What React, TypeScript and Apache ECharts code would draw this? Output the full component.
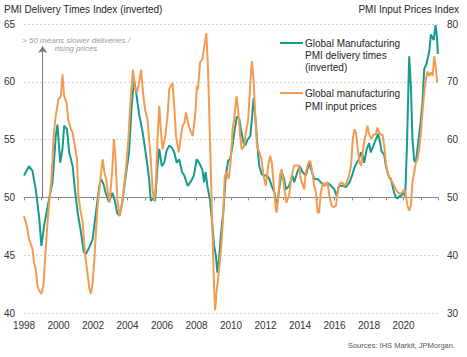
import React, { useEffect, useRef } from "react";
import * as echarts from "echarts";

// Global Manufacturing PMI delivery times (inverted) — left axis
const deliveryYears = [
  1998.0, 1998.29, 1998.49, 1998.68, 1998.87, 1999.01, 1999.17, 1999.26, 1999.46, 1999.65, 1999.75, 1999.84, 1999.94,
  2000.1, 2000.23, 2000.33, 2000.49, 2000.62, 2000.82, 2000.95, 2001.11, 2001.3, 2001.46, 2001.59, 2001.79, 2001.98,
  2002.17, 2002.37, 2002.47, 2002.62, 2002.73, 2002.92, 2003.12, 2003.27, 2003.41, 2003.55, 2003.7, 2003.9,
  2004.09, 2004.24, 2004.38, 2004.52, 2004.67, 2004.87, 2005.02, 2005.16, 2005.25, 2005.35, 2005.49, 2005.6, 2005.74, 2005.84, 2005.99,
  2006.13, 2006.26, 2006.42, 2006.57, 2006.71, 2006.85, 2007.0, 2007.16, 2007.29, 2007.49, 2007.68, 2007.85,
  2008.01, 2008.15, 2008.34, 2008.44, 2008.53, 2008.63, 2008.79, 2008.92, 2009.02, 2009.12, 2009.21, 2009.31, 2009.41, 2009.55, 2009.7, 2009.84, 2009.95,
  2010.09, 2010.22, 2010.34, 2010.48, 2010.57, 2010.73, 2010.83, 2010.96, 2011.12, 2011.21, 2011.31, 2011.45, 2011.55, 2011.64, 2011.78, 2011.93,
  2012.09, 2012.22, 2012.36, 2012.52, 2012.61, 2012.7, 2012.8, 2012.94, 2013.08, 2013.18, 2013.37, 2013.56, 2013.66, 2013.85, 2013.99,
  2014.14, 2014.34, 2014.53, 2014.69, 2014.83, 2015.02, 2015.21, 2015.41, 2015.6, 2015.8, 2015.99, 2016.13, 2016.23, 2016.32, 2016.48, 2016.67, 2016.87,
  2017.02, 2017.16, 2017.29, 2017.41, 2017.54, 2017.64, 2017.72, 2017.87, 2018.01, 2018.1, 2018.26, 2018.39, 2018.53, 2018.65, 2018.72, 2018.88, 2018.98,
  2019.07, 2019.17, 2019.27, 2019.36, 2019.46, 2019.56, 2019.65, 2019.75, 2019.85, 2020.0, 2020.1, 2020.2, 2020.33, 2020.43, 2020.52, 2020.62, 2020.72, 2020.81, 2020.97,
  2021.1, 2021.2, 2021.34, 2021.49, 2021.59, 2021.75, 2021.86, 2021.94, 2021.99,
];
const deliveryIndex = [
  51.9, 52.7, 52.3, 50.7, 48.4, 45.8, 47.6, 48.3, 49.9, 51.3, 53.3, 55.3, 56.3,
  53.0, 54.2, 56.2, 55.9, 53.9, 52.7, 50.7, 48.7, 47.0, 45.3, 45.1, 45.7, 46.4,
  48.7, 51.0, 51.6, 51.1, 50.4, 49.6, 50.4, 49.7, 48.6, 48.4, 49.6, 51.9,
  53.9, 57.9, 60.2, 58.9, 57.2, 55.7, 54.2, 52.7, 51.6, 49.7, 49.9, 49.7, 52.7, 54.2, 52.7,
  53.0, 54.0, 54.5, 54.3, 53.9, 53.0, 53.3, 52.2, 51.9, 51.0, 51.4, 51.9,
  53.3, 53.0, 52.4, 51.3, 52.2, 51.0, 49.7, 47.6, 45.8, 45.0, 43.5, 44.7, 46.7, 48.7, 51.9, 53.2, 53.3,
  54.5, 55.9, 57.0, 56.8, 55.9, 54.7, 54.5, 55.0, 55.3, 56.8, 58.6, 56.2, 54.2, 52.7, 52.0, 51.9,
  51.9, 51.6, 51.0, 50.4, 49.6, 49.6, 50.8, 52.2, 51.6, 50.7, 51.0, 51.9, 51.3, 52.2, 52.7,
  52.2, 51.9, 53.0, 52.2, 51.6, 51.6, 51.3, 51.0, 51.3, 51.0, 50.7, 50.1, 50.9, 51.0, 51.0, 50.9, 51.3,
  51.9, 52.6, 53.0, 53.3, 53.9, 53.6, 53.0, 54.2, 54.7, 53.9, 54.5, 55.0, 55.5, 54.7, 54.0, 53.7, 52.7,
  52.2, 51.7, 51.6, 51.0, 50.4, 50.0, 49.9, 50.1, 50.1, 50.4, 50.1, 54.5, 62.2, 59.6, 55.0, 53.2, 53.0, 54.2, 56.2,
  58.2, 61.1, 61.6, 62.6, 64.1, 63.6, 64.9, 63.9, 62.4,
];

// Global manufacturing PMI input prices — right axis
const priceYears = [
  1998.0, 1998.16, 1998.29, 1998.49, 1998.58, 1998.68, 1998.78, 1998.87, 1999.01, 1999.13, 1999.2, 1999.32, 1999.46, 1999.59, 1999.71, 1999.81, 1999.9,
  2000.0, 2000.14, 2000.23, 2000.33, 2000.47, 2000.56, 2000.72, 2000.82, 2000.95, 2001.07, 2001.15, 2001.26, 2001.4, 2001.53, 2001.65, 2001.79, 2001.88, 2001.98,
  2002.08, 2002.17, 2002.27, 2002.37, 2002.47, 2002.56, 2002.66, 2002.76, 2002.89, 2002.96, 2003.12, 2003.21, 2003.31, 2003.41, 2003.54, 2003.66, 2003.8, 2003.93,
  2004.05, 2004.19, 2004.32, 2004.44, 2004.55, 2004.67, 2004.79, 2004.9, 2005.02, 2005.16, 2005.25, 2005.35, 2005.45, 2005.55, 2005.64, 2005.74, 2005.84, 2005.93,
  2006.03, 2006.19, 2006.32, 2006.42, 2006.52, 2006.61, 2006.71, 2006.81, 2006.97, 2007.1, 2007.2, 2007.3, 2007.39, 2007.55, 2007.68, 2007.78, 2007.87, 2007.95,
  2008.02, 2008.09, 2008.2, 2008.34, 2008.48, 2008.57, 2008.67, 2008.75, 2008.83, 2008.88, 2008.95, 2009.02, 2009.08, 2009.16, 2009.23, 2009.33, 2009.44, 2009.54, 2009.64, 2009.76, 2009.87, 2009.99,
  2010.09, 2010.18, 2010.32, 2010.41, 2010.53, 2010.62, 2010.76, 2010.86, 2011.0, 2011.11, 2011.21, 2011.31, 2011.4, 2011.5, 2011.64, 2011.77, 2011.89,
  2012.02, 2012.16, 2012.27, 2012.37, 2012.51, 2012.6, 2012.65, 2012.75, 2012.85, 2012.94, 2013.07, 2013.21, 2013.36, 2013.52, 2013.66, 2013.79, 2013.95,
  2014.04, 2014.24, 2014.33, 2014.49, 2014.59, 2014.69, 2014.82, 2014.92, 2015.02, 2015.11, 2015.21, 2015.35, 2015.46, 2015.6, 2015.7, 2015.83, 2015.95,
  2016.09, 2016.18, 2016.28, 2016.44, 2016.57, 2016.71, 2016.83, 2016.96, 2017.06, 2017.16, 2017.26, 2017.35, 2017.45, 2017.55, 2017.64, 2017.74, 2017.84, 2017.91,
  2018.01, 2018.14, 2018.26, 2018.39, 2018.49, 2018.59, 2018.68, 2018.78, 2018.88, 2018.98, 2019.07, 2019.23, 2019.36, 2019.46, 2019.56, 2019.65, 2019.81, 2019.94,
  2020.04, 2020.14, 2020.23, 2020.33, 2020.43, 2020.52, 2020.62, 2020.72, 2020.81, 2020.91, 2021.01, 2021.1, 2021.2, 2021.3, 2021.39, 2021.49, 2021.59, 2021.69, 2021.78, 2021.88, 2021.96,
];
const priceIndex = [
  46.8, 45.1, 42.8, 41.1, 38.8, 37.6, 34.8, 33.9, 33.3, 34.8, 38.2, 44.0, 49.1, 53.2, 60.1, 63.5, 65.2,
  67.0, 67.5, 71.3, 67.5, 66.4, 63.5, 61.8, 61.2, 58.9, 56.6, 50.3, 48.0, 45.7, 40.5, 37.6, 34.2, 33.3, 35.3,
  39.4, 44.0, 48.6, 51.4, 54.3, 56.6, 54.3, 53.2, 50.3, 49.1, 54.9, 60.1, 56.6, 49.7, 46.8, 48.6, 52.0, 55.5,
  60.1, 67.5, 72.1, 68.7, 68.1, 69.8, 72.1, 68.1, 65.2, 63.5, 60.1, 56.6, 51.4, 49.4, 52.0, 60.1, 65.8, 61.8,
  58.3, 60.6, 64.1, 68.7, 69.3, 69.8, 65.8, 60.6, 57.8, 60.6, 62.4, 62.9, 64.7, 62.4, 61.2, 60.6, 62.9, 65.2,
  69.3, 68.7, 73.3, 73.9, 76.7, 78.4, 72.1, 63.5, 54.9, 48.6, 41.7, 34.2, 30.5, 33.6, 35.3, 38.2, 41.7, 46.3, 53.7, 54.3, 53.2, 56.6,
  61.8, 63.5, 67.5, 65.2, 60.6, 58.3, 58.9, 61.2, 63.5, 69.3, 73.6, 70.4, 64.7, 58.9, 57.8, 56.6, 53.7,
  52.0, 55.5, 57.2, 56.0, 50.9, 47.7, 47.4, 50.5, 54.0, 54.9, 52.0, 49.1, 50.3, 53.7, 55.5, 55.5, 55.5,
  53.2, 51.4, 54.3, 56.0, 56.3, 54.9, 52.0, 50.9, 47.4, 47.4, 50.9, 52.6, 52.0, 52.6, 50.3, 48.6, 48.3,
  48.6, 50.9, 52.3, 52.6, 52.0, 52.6, 53.7, 55.5, 60.1, 61.8, 60.9, 58.3, 56.0, 55.5, 57.8, 60.1, 61.2, 62.4,
  60.9, 60.1, 60.9, 60.9, 62.1, 61.2, 60.9, 60.9, 58.9, 56.0, 54.3, 53.2, 52.6, 52.0, 51.4, 50.9, 50.6, 50.9,
  51.4, 50.3, 48.6, 47.7, 48.6, 52.6, 54.3, 56.0, 56.6, 58.3, 61.2, 64.7, 68.1, 70.4, 71.8, 71.0, 71.6, 71.0, 74.4, 72.1, 69.8,
];

const xMin = 1998;
const xMax = 2022;
const leftMin = 40;
const leftMax = 65;
const rightMin = 30;
const rightMax = 80;

const TEAL = "#169b8c";
const ORANGE = "#f39c51";
const FONT = "'Liberation Sans', Arial, sans-serif";

export default function App() {
  const ref = useRef<HTMLDivElement>(null);

  useEffect(() => {
    if (!ref.current) return;
    const chart = echarts.init(ref.current, null, { renderer: "svg" });
    chart.setOption({
      animation: false,
      backgroundColor: "#ffffff",
      textStyle: { fontFamily: FONT },
      grid: { left: 24, right: 29, top: 24, bottom: 44 },
      xAxis: [
        {
          type: "value",
          min: xMin,
          max: xMax,
          interval: 2,
          axisLine: { show: false, onZero: false },
          axisTick: { show: false },
          splitLine: { show: false },
          axisLabel: {
            color: "#333",
            fontSize: 10,
            margin: 7,
            fontFamily: FONT,
            formatter: (v: number) => (v >= xMax ? "" : String(v)),
          },
        },
        {
          type: "value",
          min: xMin,
          max: xMax,
          interval: 1,
          position: "top",
          axisLine: {
            show: true,
            onZero: true,
            onZeroAxisIndex: 2,
            lineStyle: { color: "#8a8a8a", width: 1 },
          },
          axisTick: { show: true, inside: true, length: 3, lineStyle: { color: "#8a8a8a" } },
          axisLabel: { show: false },
          splitLine: { show: false },
        },
      ],
      yAxis: [
        {
          type: "value",
          min: leftMin,
          max: leftMax,
          interval: 5,
          position: "left",
          axisLine: { show: false },
          axisTick: { show: false },
          axisLabel: { color: "#333", fontSize: 10, margin: 9, fontFamily: FONT },
          splitLine: { lineStyle: { color: "#d6d6d6", type: [2, 2], width: 1 } },
        },
        {
          type: "value",
          min: rightMin,
          max: rightMax,
          interval: 10,
          position: "right",
          axisLine: { show: false },
          axisTick: { show: false },
          axisLabel: { color: "#333", fontSize: 10, margin: 9, fontFamily: FONT },
          splitLine: { show: false },
        },
        {
          type: "value",
          min: -10,
          max: 15,
          show: false,
        },
      ],
      series: [
        {
          type: "line",
          name: "Global Manufacturing PMI delivery times (inverted)",
          xAxisIndex: 0,
          yAxisIndex: 0,
          data: deliveryYears.map((x, i) => [x, deliveryIndex[i]]),
          showSymbol: false,
          symbol: "none",
          lineStyle: { color: TEAL, width: 2 },
          itemStyle: { color: TEAL },
          z: 3,
          markLine: {
            silent: true,
            symbol: ["none", "arrow"],
            symbolSize: 7,
            label: { show: false },
            lineStyle: { color: "#7a7a7a", width: 1, type: "solid" },
            data: [[{ coord: [1999.08, 50] }, { coord: [1999.08, 63.1] }]],
          },
        },
        {
          type: "line",
          name: "Global manufacturing PMI input prices",
          xAxisIndex: 0,
          yAxisIndex: 1,
          data: priceYears.map((x, i) => [x, priceIndex[i]]),
          showSymbol: false,
          symbol: "none",
          lineStyle: { color: ORANGE, width: 2 },
          itemStyle: { color: ORANGE },
          z: 4,
        },
      ],
      graphic: [
        {
          type: "text",
          left: 4,
          top: 4,
          style: { text: "PMI Delivery Times Index (inverted)", fill: "#262626", fontSize: 10, fontFamily: FONT },
        },
        {
          type: "text",
          right: 8,
          top: 4,
          style: { text: "PMI Input Prices Index", fill: "#262626", fontSize: 10, fontFamily: FONT },
        },
        {
          type: "text",
          x: 76,
          y: 36,
          style: {
            text: "> 50 means slower deliveries /\nrising prices",
            fill: "#9a9a9a",
            fontSize: 8,
            fontStyle: "italic",
            fontFamily: FONT,
            textAlign: "center",
            textVerticalAlign: "top",
            lineHeight: 8.5,
          },
        },
        {
          type: "line",
          shape: { x1: 280, y1: 43, x2: 303, y2: 43 },
          style: { stroke: TEAL, lineWidth: 2 },
        },
        {
          type: "text",
          x: 305,
          y: 37,
          style: {
            text: "Global Manufacturing\nPMI delivery times\n(inverted)",
            fill: "#262626",
            fontSize: 10,
            fontFamily: FONT,
            lineHeight: 12,
            textVerticalAlign: "top",
          },
        },
        {
          type: "line",
          shape: { x1: 280, y1: 93, x2: 303, y2: 93 },
          style: { stroke: ORANGE, lineWidth: 2 },
        },
        {
          type: "text",
          x: 305,
          y: 87,
          style: {
            text: "Global manufacturing\nPMI input prices",
            fill: "#262626",
            fontSize: 10,
            fontFamily: FONT,
            lineHeight: 13,
            textVerticalAlign: "top",
          },
        },
        {
          type: "text",
          x: 455,
          y: 341,
          style: {
            text: "Sources: IHS Markit, JPMorgan.",
            fill: "#555",
            fontSize: 7.5,
            fontFamily: FONT,
            textAlign: "right",
            textVerticalAlign: "top",
          },
        },
      ],
    });
    return () => chart.dispose();
  }, []);

  return (
    <div
      ref={ref}
      style={{ position: "fixed", left: 0, top: 0, width: 467, height: 357, background: "#fff" }}
    />
  );
}
